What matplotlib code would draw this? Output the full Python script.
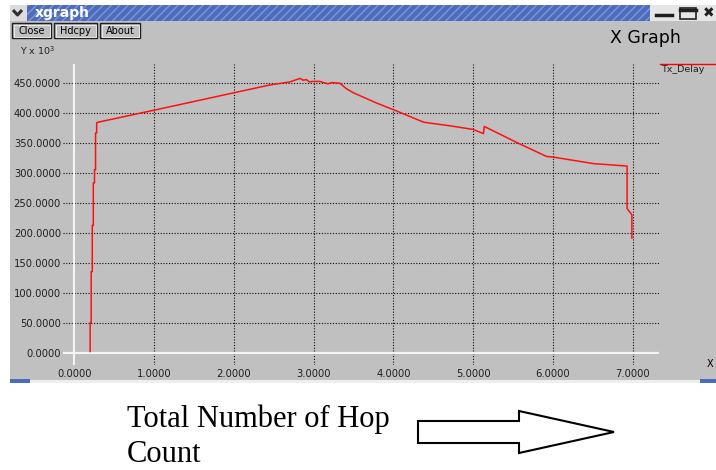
import matplotlib.pyplot as plt
from matplotlib.patches import Rectangle, Polygon

# hop count (x) vs transmission delay in units of 10^3 (y)
hops = [0.200, 0.200, 0.213, 0.213, 0.227, 0.227, 0.240, 0.240, 0.255, 0.255,
        0.268, 0.268, 0.282, 0.282, 0.298, 1.00, 2.00, 2.45, 2.70, 2.83,
        2.87, 2.91, 2.95, 2.99, 3.08, 3.18, 3.23, 3.33, 3.41, 3.50,
        3.62, 3.79, 3.94, 4.00, 4.38, 4.71, 5.00, 5.13, 5.14, 5.55,
        5.92, 6.00, 6.51, 6.93, 6.93, 6.99, 6.99]
delay = [3, 51, 51, 136, 136, 213, 213, 284, 284, 306,
         306, 367, 367, 384, 385, 405, 434, 447, 452, 458,
         455, 456, 452, 453, 453, 449, 451, 450, 441, 434,
         427, 417, 409, 406, 385, 379, 373, 366, 378, 351,
         328, 327, 316, 312, 241, 231, 192]

x_ticks = [0, 1, 2, 3, 4, 5, 6, 7]
y_ticks = [0, 50, 100, 150, 200, 250, 300, 350, 400, 450]
series_name = 'Tx_Delay'

W, H = 716, 470
fig = plt.figure(figsize=(W / 100, H / 100), dpi=100)
fig.patch.set_facecolor('white')

# pixel-space layer for the window decorations
bg = fig.add_axes([0, 0, 1, 1], zorder=0)
bg.set_xlim(0, W)
bg.set_ylim(H, 0)
bg.axis('off')

GRAY = '#c0c0c0'
bg.add_patch(Rectangle((10, 5), W - 10, 378, facecolor=GRAY, edgecolor='none'))
# title bar
bg.add_patch(Rectangle((10, 5), 640, 16, facecolor='#4d6cbd', edgecolor='#7d97d8',
                       hatch='////', linewidth=0))
bg.add_patch(Rectangle((10, 5), 17, 16, facecolor='#dcdcdc', edgecolor='none'))
bg.plot([13, 17.5, 22], [10, 15, 10], color='#303030', lw=2.2, solid_capstyle='butt')
bg.text(35, 13, 'xgraph', color='white', fontsize=10, fontweight='bold',
        va='center', ha='left', family='DejaVu Sans')
bg.add_patch(Rectangle((650, 5), 66, 16, facecolor='#e6e6e6', edgecolor='none'))
bg.plot([656, 672], [15, 15], color='#202020', lw=2.5)
bg.add_patch(Rectangle((680, 8), 16, 11, facecolor='none', edgecolor='#202020', lw=1.2))
bg.plot([680, 696], [9.5, 9.5], color='#202020', lw=2.5)
bg.text(709, 13.5, '✖', fontsize=10, color='#202020', ha='center', va='center',
        family='DejaVu Sans')
# bottom border
bg.add_patch(Rectangle((10, 380), W - 10, 3, facecolor='#eeeeee', edgecolor='none'))
bg.add_patch(Rectangle((10, 379), 20, 4, facecolor='#4a6cc0', edgecolor='none'))
bg.add_patch(Rectangle((700, 379), 16, 4, facecolor='#4a6cc0', edgecolor='none'))

# buttons
for label, x0, x1 in [('Close', 12, 51), ('Hdcpy', 54, 97), ('About', 100, 140)]:
    bg.add_patch(Rectangle((x0, 23), x1 - x0, 15, facecolor=GRAY, edgecolor='#202020', lw=1.0))
    bg.add_patch(Rectangle((x0 + 1.5, 24.5), x1 - x0 - 3, 12, facecolor='none',
                           edgecolor='#f0f0f0', lw=0.6))
    bg.text((x0 + x1) / 2, 31, label, fontsize=7, ha='center', va='center',
            family='DejaVu Sans', color='black')

bg.text(20, 51, r'Y x 10$^3$', fontsize=6.8, ha='left', va='center',
        family='DejaVu Sans', color='#202020')
bg.text(645, 38, 'X Graph', fontsize=12.5, ha='center', va='center',
        family='DejaVu Sans', color='black')
bg.text(707, 364, 'X', fontsize=7, ha='left', va='center', family='DejaVu Sans')

# legend
bg.plot([660, 716], [64, 64], color='red', lw=1.0)
bg.text(661, 70, series_name, fontsize=6.8, ha='left', va='center',
        family='DejaVu Sans', color='#202020')

# caption below the window
bg.text(127, 427, 'Total Number of Hop', fontsize=22, family='Liberation Serif',
        ha='left', va='baseline')
bg.text(127, 462, 'Count', fontsize=22, family='Liberation Serif',
        ha='left', va='baseline')
bg.add_patch(Polygon([(418, 421), (519, 421), (519, 411), (614, 432),
                      (519, 453), (519, 443), (418, 443)], closed=True,
                     facecolor='white', edgecolor='black', lw=1.5))

# plot area
L, R, T, B = 63, 659, 64, 365
ax = fig.add_axes([L / W, 1 - B / H, (R - L) / W, (B - T) / H], zorder=1)
ax.set_facecolor('none')
ax.plot(hops, delay, color='#ff1010', lw=1.1, zorder=3)
ax.axhline(0, color='#f4f4f4', lw=1.6, zorder=2)
ax.axvline(0, color='#f4f4f4', lw=1.6, zorder=2)
ax.set_xlim(-0.14, 7.33)
ax.set_ylim(-19.5, 482)
ax.set_xticks(x_ticks)
ax.set_yticks(y_ticks)
ax.set_xticklabels(['%.4f' % v for v in x_ticks])
ax.set_yticklabels(['%.4f' % v for v in y_ticks])
ax.tick_params(length=0, labelsize=7.2, colors='#202020')
ax.tick_params(axis='y', pad=1.5)
ax.tick_params(axis='x', pad=3)
ax.grid(True, color='#101010', linestyle=(0, (1, 1.5)), linewidth=0.8)
ax.set_axisbelow(True)
for s in ax.spines.values():
    s.set_visible(False)

fig.savefig('out.png', dpi=100)
